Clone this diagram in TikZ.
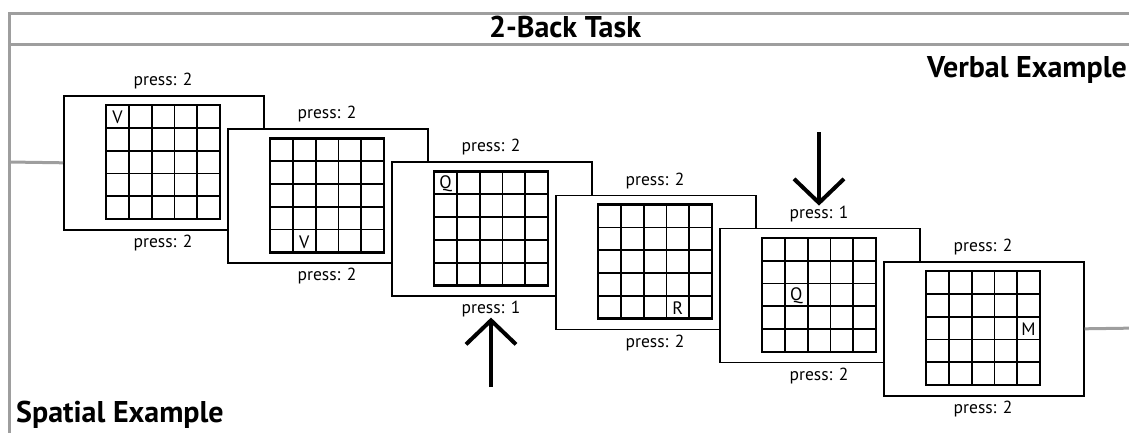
\documentclass[tikz,border=0pt]{standalone}
\usepackage{fontspec}
\setmainfont{PT Sans}
\usetikzlibrary{arrows.meta}
\begin{document}
\begin{tikzpicture}[x=1pt,y=-1pt,
  frameline/.style={draw=black!38, line width=3pt},
  card/.style={draw=black, line width=1.6pt, fill=white, minimum width=200pt, minimum height=134pt, inner sep=0pt, anchor=north west},
  gridinner/.style={draw=black, line width=1.8pt},
  gridouter/.style={draw=black, line width=2.6pt},
  presslbl/.style={font=\fontsize{17.5}{19}\selectfont, inner sep=0pt},
  cellletter/.style={font=\fontsize{18}{19}\selectfont, inner sep=0pt},
  heading/.style={font=\bfseries\fontsize{30}{32}\selectfont, inner sep=0pt},
  bigarrow/.style={line width=4pt, -{Straight Barb[length=24pt,width=50pt]}}]
\useasboundingbox (0,0) rectangle (1129,432);
% frame
\draw[frameline] (9,440) -- (9,13) -- (1140,13);
\draw[frameline] (9,44) -- (1140,44);
\node[heading, anchor=base] (title) at (565,37) {2-Back Task};
\node[heading, anchor=base west] (verbal) at (927,77) {Verbal Example};
\node[heading, anchor=base west] (spatial) at (16,422) {Spatial Example};
% cards
\foreach \i/\ab/\be/\letter/\r/\c in {1/2/2/V/0/0, 2/2/2/V/4/1, 3/2/1/Q/0/0, 4/2/2/R/4/3, 5/1/2/Q/2/1, 6/2/2/M/2/4} {
  \pgfmathsetmacro\cx{63+164*(\i-1)}
  \pgfmathsetmacro\cy{95+33.2*(\i-1)}
  \node[card] (card\i) at (\cx,\cy) {};
  \begin{scope}[shift={(\cx+43,\cy+10)}]
    \foreach \k in {1,...,4} {
      \draw[gridinner] (\k*22.8,0) -- (\k*22.8,114);
      \draw[gridinner] (0,\k*22.8) -- (114,\k*22.8);
    }
    \draw[gridouter] (0,0) rectangle (114,114);
    \node[cellletter] (letter\i) at ({(\c+0.5)*22.8},{(\r+0.5)*22.8+1}) {\letter};
  \end{scope}
  \node[presslbl] (above\i) at (\cx+100,\cy-14) {press: \ab};
  \node[presslbl] (below\i) at (\cx+100,\cy+148) {press: \be};
}
% connections to frame
\coordinate (leftend) at (9,162);
\coordinate (rightend) at (1140,328);
\draw[frameline] (leftend) -- (card1.west);
\draw[frameline] (card6.east) -- (rightend);
% arrows
\coordinate (uptail) at (491,387);
\coordinate (downtail) at (819,132);
\draw[bigarrow] (uptail) -- (below3.south);
\draw[bigarrow] (downtail) -- (above5.north);
\end{tikzpicture}
\end{document}
